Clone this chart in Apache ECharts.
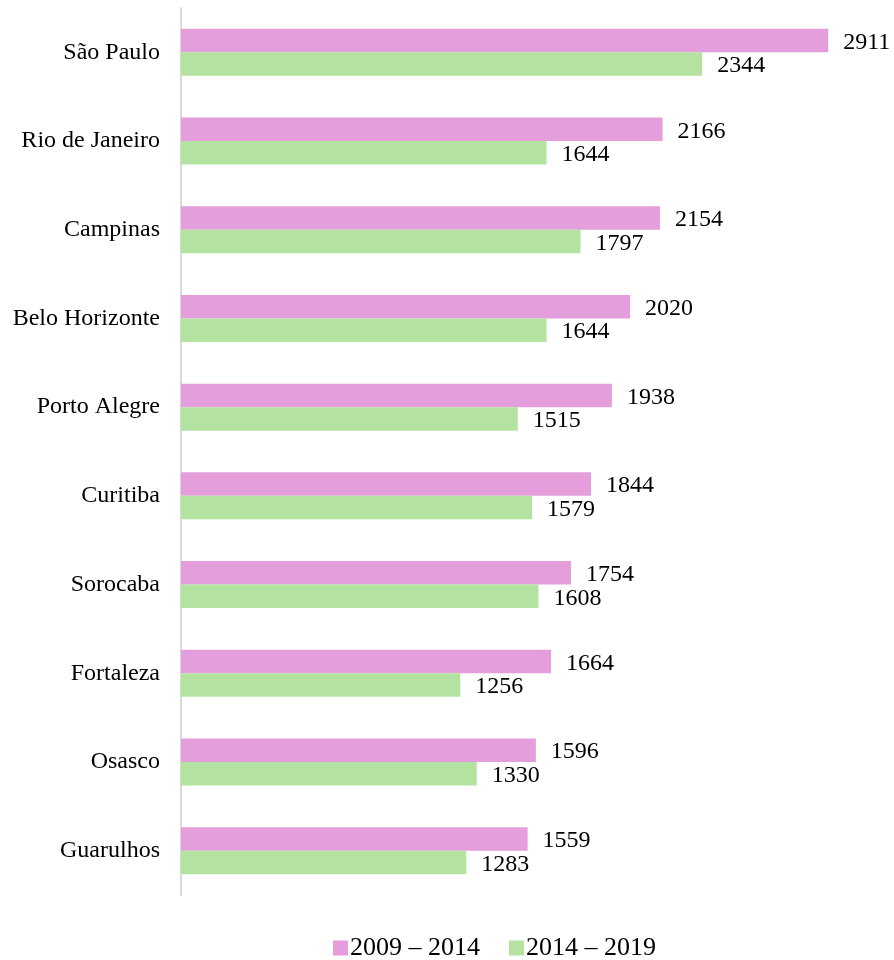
<!DOCTYPE html>
<html>
<head>
<meta charset="utf-8">
<script src="https://cdn.jsdelivr.net/npm/echarts@6/dist/echarts.min.js"></script>
<style>
  html, body { margin: 0; padding: 0; background: #fff; }
  #chart { width: 894px; height: 960px; }
</style>
</head>
<body>
<div id="chart"></div>
<script>
// cidades (de cima para baixo)
const cities = ["São Paulo", "Rio de Janeiro", "Campinas", "Belo Horizonte", "Porto Alegre",
  "Curitiba", "Sorocaba", "Fortaleza", "Osasco", "Guarulhos"];
const seriesNames = ["2009 – 2014", "2014 – 2019"];
const values0914 = [2911, 2166, 2154, 2020, 1938, 1844, 1754, 1664, 1596, 1559];
const values1419 = [2344, 1644, 1797, 1644, 1515, 1579, 1608, 1256, 1330, 1283];

const fontFamily = "'Liberation Serif', 'Times New Roman', serif";
const chart = echarts.init(document.getElementById("chart"));

const labelStyle = {
  show: true,
  position: "right",
  distance: 15,
  color: "#000",
  fontFamily: fontFamily,
  fontSize: 24,
};

chart.setOption({
  animation: false,
  textStyle: { fontFamily: fontFamily },
  grid: { left: 181, top: 8, right: 46, bottom: 65, containLabel: false },
  legend: {
    left: 328,
    top: 930,
    itemWidth: 15,
    itemHeight: 15,
    itemGap: 29,
    icon: "rect",
    textStyle: { color: "#000", fontSize: 26, fontFamily: fontFamily, padding: [0, 0, 0, -3] },
    data: seriesNames,
  },
  xAxis: {
    type: "value",
    min: 0,
    max: 3000,
    show: false,
    splitLine: { show: false },
  },
  yAxis: {
    type: "category",
    data: cities,
    inverse: true,
    axisLine: { show: true, lineStyle: { color: "#d9d9d9", width: 2 } },
    axisTick: { show: false },
    axisLabel: { color: "#000", fontSize: 24, fontFamily: fontFamily, margin: 21 },
  },
  series: [
    {
      name: seriesNames[0],
      type: "bar",
      data: values0914,
      barCategoryGap: "47%",
      barGap: "0%",
      itemStyle: { color: "#e39edb" },
      label: Object.assign({}, labelStyle, { offset: [0, 2] }),
    },
    {
      name: seriesNames[1],
      type: "bar",
      data: values1419,
      barCategoryGap: "47%",
      barGap: "0%",
      itemStyle: { color: "#b4e3a1" },
      label: Object.assign({}, labelStyle, { offset: [0, 2] }),
    },
  ],
});
</script>
</body>
</html>
